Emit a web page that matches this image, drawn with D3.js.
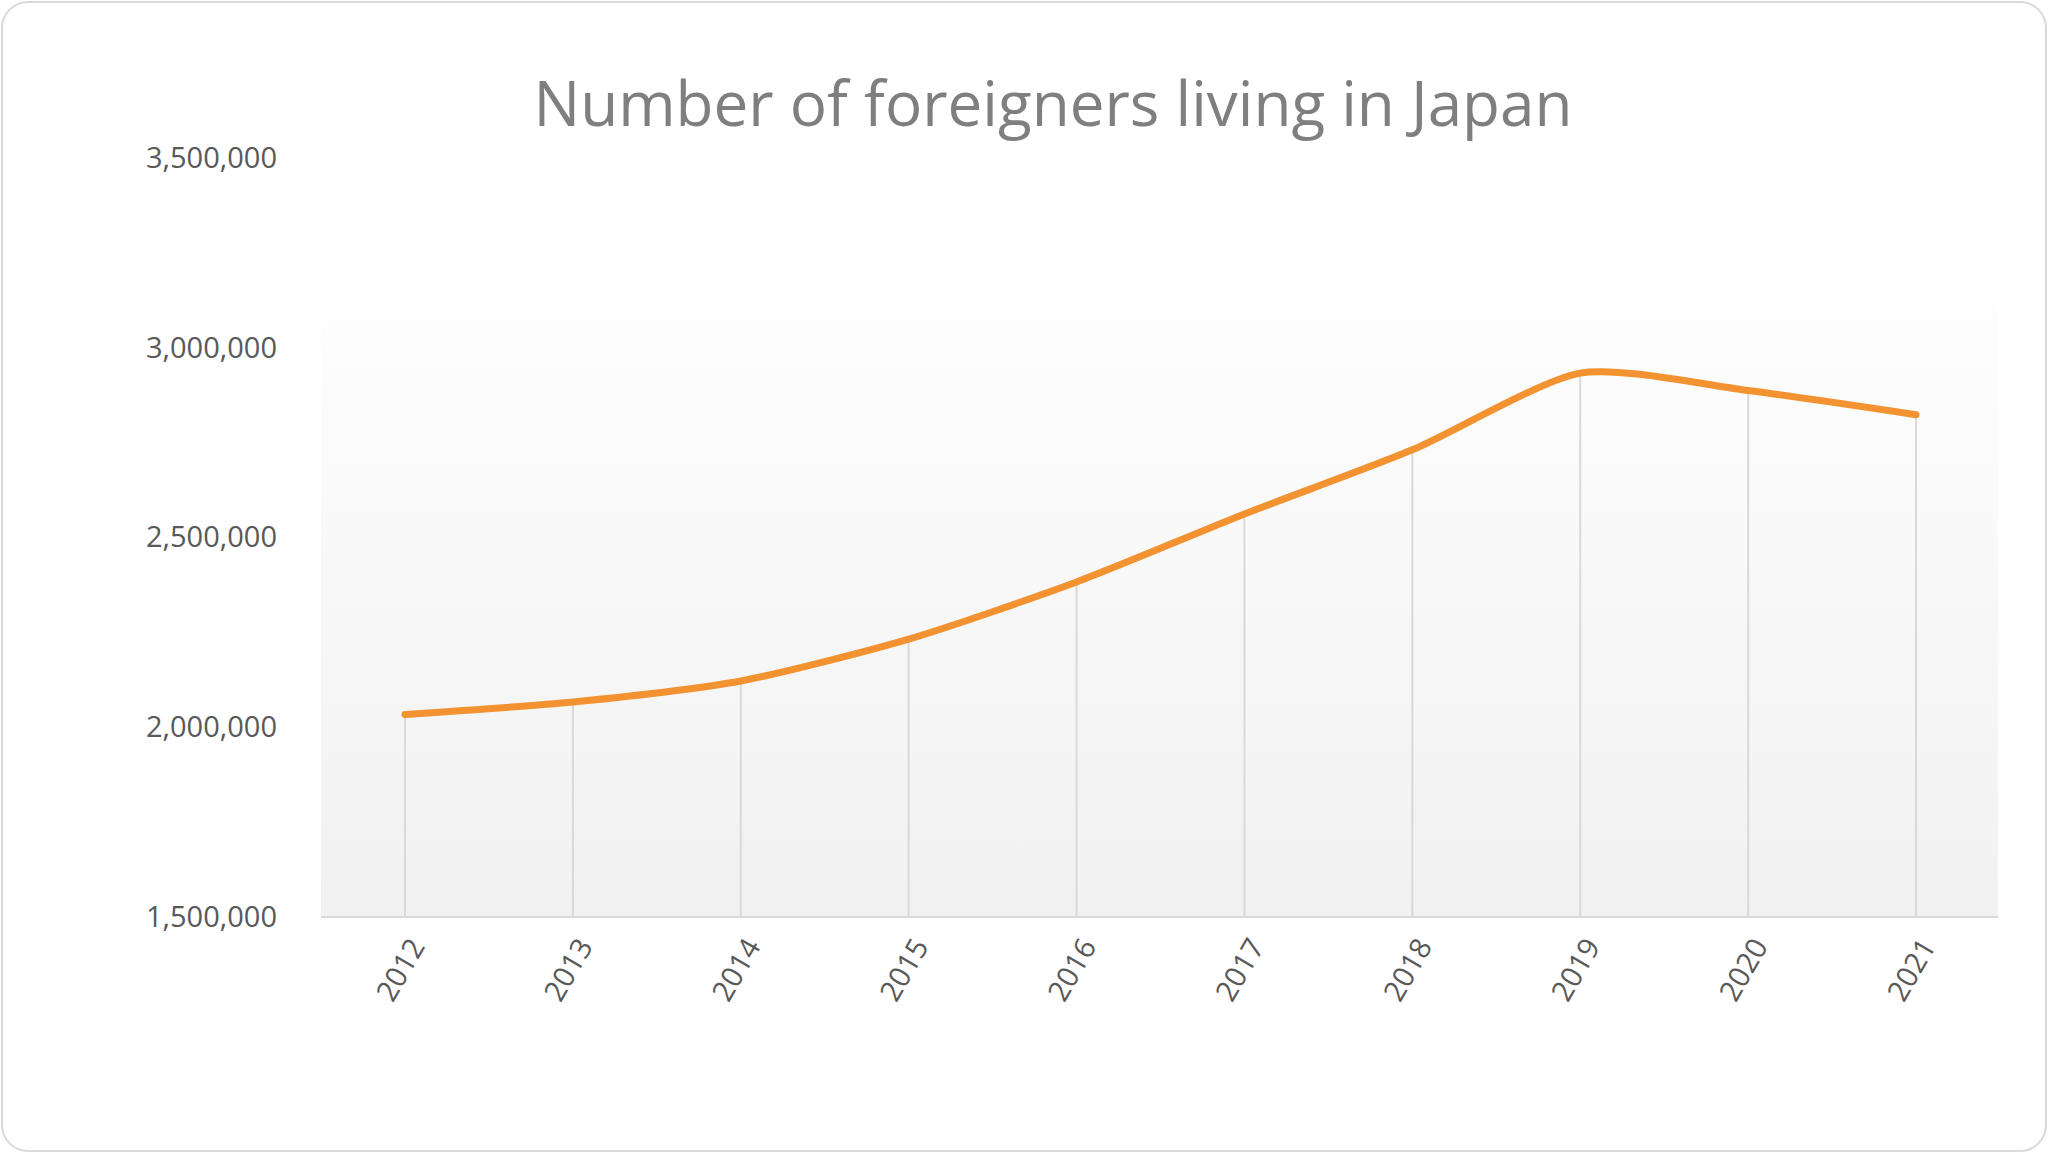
<!DOCTYPE html>
<html>
<head>
<meta charset="utf-8">
<script src="https://cdn.jsdelivr.net/npm/d3@7"></script>
<style>
  html, body { margin: 0; padding: 0; background: #fff; }
  svg { display: block; }
</style>
</head>
<body>
<svg id="chart" width="2048" height="1153"></svg>
<script>
"use strict";
// chart data
const years = ["2012", "2013", "2014", "2015", "2016", "2017", "2018", "2019", "2020", "2021"];
const residents = [2033656, 2066445, 2121831, 2232189, 2382822, 2561848, 2731093, 2933137, 2887116, 2823565];
const yTicks = [1500000, 2000000, 2500000, 3000000, 3500000];

const svg = d3.select("#chart");
const font = "'Open Sans', 'Liberation Sans', sans-serif";

// outer frame
svg.append("rect")
  .attr("x", 2).attr("y", 2).attr("width", 2044).attr("height", 1149)
  .attr("rx", 26)
  .attr("fill", "#fff").attr("stroke", "#d9d9d9").attr("stroke-width", 2);

const plotLeft = 321, plotRight = 1998, plotTop = 158, plotBottom = 917;

const x = d3.scalePoint().domain(years).range([405, 1916]);
const y = d3.scaleLinear().domain([1500000, 3500000]).range([plotBottom, plotTop]);

// plot background gradient
const grad = svg.append("defs").append("linearGradient")
  .attr("id", "bg").attr("x1", 0).attr("y1", 0).attr("x2", 0).attr("y2", 1);
grad.append("stop").attr("offset", "0%").attr("stop-color", "#ffffff");
grad.append("stop").attr("offset", "100%").attr("stop-color", "#f1f1f1");
svg.append("rect")
  .attr("x", plotLeft).attr("y", 248).attr("width", plotRight - plotLeft).attr("height", plotBottom - 248)
  .attr("fill", "url(#bg)");

// title
svg.append("text")
  .attr("x", 1053).attr("y", 126)
  .attr("text-anchor", "middle")
  .attr("font-family", font).attr("font-size", 62)
  .attr("fill", "#7f7f7f")
  .text("Number of foreigners living in Japan");

// drop lines
svg.append("g").selectAll("line")
  .data(years)
  .join("line")
  .attr("x1", d => x(d)).attr("x2", d => x(d))
  .attr("y1", plotBottom).attr("y2", (d, i) => y(residents[i]))
  .attr("stroke", "#d9d9d9").attr("stroke-width", 2);

// x axis line
svg.append("line")
  .attr("x1", plotLeft).attr("x2", plotRight).attr("y1", plotBottom).attr("y2", plotBottom)
  .attr("stroke", "#d9d9d9").attr("stroke-width", 2);

// y axis labels
const yAxis = svg.append("g")
  .attr("transform", "translate(277,0)")
  .call(d3.axisLeft(y).tickValues(yTicks).tickFormat(d3.format(",")).tickSize(0).tickPadding(0));
yAxis.select(".domain").remove();
yAxis.selectAll("text")
  .attr("font-family", font).attr("font-size", 29).attr("fill", "#595959");

// x axis labels, rotated
svg.append("g").selectAll("text")
  .data(years)
  .join("text")
  .attr("transform", d => `translate(${x(d) + 12},${plotBottom + 24}) rotate(-60)`)
  .attr("text-anchor", "end")
  .attr("dy", "0.35em")
  .attr("font-family", font).attr("font-size", 29).attr("fill", "#595959")
  .text(d => d);

// the line
const line = d3.line()
  .x((d, i) => x(years[i]))
  .y(d => y(d))
  .curve(d3.curveCardinal.tension(0.3));
svg.append("path")
  .datum(residents)
  .attr("d", line)
  .attr("fill", "none")
  .attr("stroke", "#f39230").attr("stroke-width", 7)
  .attr("stroke-linecap", "round").attr("stroke-linejoin", "round");
</script>
</body>
</html>
